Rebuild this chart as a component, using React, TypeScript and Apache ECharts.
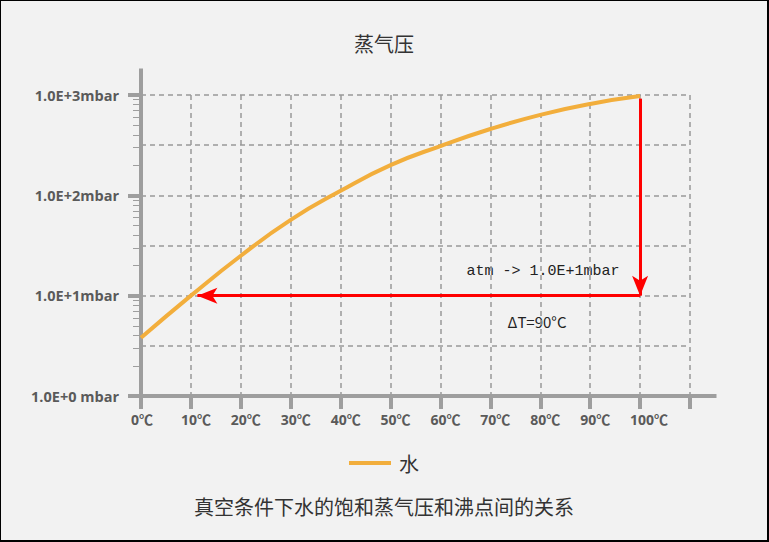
import React, { useEffect, useRef } from 'react';
import * as echarts from 'echarts';

// ---- data ----
const temperatures = [0, 10, 20, 30, 40, 50, 60, 70, 80, 90, 100];
const vaporPressure = [3.8, 10, 25, 57, 111, 200, 310, 458, 634, 815, 975];
const xTickValues = [0, 10, 20, 30, 40, 50, 60, 70, 80, 90, 100];
const yTickLabels: Record<number, string> = {
  0: '1.0E+0 mbar',
  1: '1.0E+1mbar',
  2: '1.0E+2mbar',
  3: '1.0E+3mbar',
};
const verticalArrow = [[100, 920], [100, 10]];
const horizontalArrow = [[100, 10], [11.3, 10]];
const titleText = '蒸气压';
const subtitleText = '真空条件下水的饱和蒸气压和沸点间的关系';
const seriesName = '水';
const annotationAtm = 'atm -> 1.0E+1mbar';
const annotationDeltaT = 'ΔT=90°C';

const AXIS_COLOR = '#9e9e9e';
const GRID_COLOR = '#999999';
const LABEL_COLOR = '#5a5a5a';
const LINE_COLOR = '#f2ae3c';

export default function App() {
  const ref = useRef<HTMLDivElement>(null);
  useEffect(() => {
    if (!ref.current) return;
    const chart = echarts.init(ref.current, null, { renderer: 'svg' });
    const splitLineStyle = { show: true, lineStyle: { color: GRID_COLOR, width: 1.5, type: [5, 4] } };
    chart.setOption({
      animation: false,
      backgroundColor: '#f2f2f2',
      textStyle: { fontFamily: '"Noto Sans CJK SC", "Noto Sans", sans-serif' },
      title: [
        {
          text: titleText,
          left: 'center',
          top: 27,
          textStyle: { fontSize: 20, fontWeight: 'normal', color: '#333333' },
        },
        {
          text: subtitleText,
          left: 'center',
          top: 490,
          textStyle: { fontSize: 20, fontWeight: 'normal', color: '#333333' },
        },
      ],
      legend: {
        data: [seriesName],
        left: 'center',
        top: 447,
        icon: 'rect',
        itemWidth: 42,
        itemHeight: 4,
        itemGap: 10,
        itemStyle: { color: LINE_COLOR },
        textStyle: { fontSize: 20, color: '#333333', padding: [0, 0, 0, 3] },
      },
      grid: { left: 140, right: 77, top: 94, bottom: 144, containLabel: false },
      xAxis: {
        type: 'value',
        min: 0,
        max: 110,
        interval: 10,
        axisLine: {
          show: true,
          lineStyle: { color: AXIS_COLOR, width: 4 },
          symbol: ['none', 'rect'],
          symbolSize: [4, 53],
        },
        axisTick: { show: true, length: 13, lineStyle: { color: AXIS_COLOR, width: 4 } },
        axisLabel: {
          margin: 16,
          align: 'left',
          padding: [0, 0, 0, -10],
          color: LABEL_COLOR,
          fontSize: 14,
          fontWeight: 'bold',
          fontFamily: '"Open Sans", "Noto Sans CJK SC", sans-serif',
          formatter: (v: number) => (xTickValues.indexOf(v) >= 0 ? v + '℃' : ''),
        },
        splitLine: splitLineStyle,
      },
      yAxis: [
        {
          type: 'log',
          logBase: 10,
          min: 1,
          max: 1000,
          axisLine: {
            show: true,
            lineStyle: { color: AXIS_COLOR, width: 4 },
            symbol: ['none', 'rect'],
            symbolSize: [4, 53],
          },
          axisTick: { show: true, length: 13, lineStyle: { color: AXIS_COLOR, width: 4 } },
          minorTick: { show: true, splitNumber: 9, length: 8, lineStyle: { color: AXIS_COLOR, width: 1 } },
          axisLabel: {
            margin: 22,
            color: LABEL_COLOR,
            fontSize: 14.5,
            fontWeight: 'bold',
            fontFamily: '"Open Sans", sans-serif',
            formatter: (v: number) => {
              const e = Math.round(Math.log10(v));
              return yTickLabels[e] ?? '';
            },
          },
          splitLine: { show: false },
        },
        {
          type: 'log',
          logBase: Math.sqrt(10),
          min: 1,
          max: 1000,
          interval: 1,
          position: 'left',
          axisLine: { show: false },
          axisTick: { show: false },
          axisLabel: { show: false },
          splitLine: splitLineStyle,
        },
      ],
      series: [
        {
          name: seriesName,
          type: 'line',
          yAxisIndex: 0,
          data: temperatures.map((t, i) => [t, vaporPressure[i]]),
          smooth: true,
          symbol: 'none',
          showSymbol: false,
          lineStyle: { color: LINE_COLOR, width: 4 },
          itemStyle: { color: LINE_COLOR },
          z: 3,
          markLine: {
            silent: true,
            symbol: ['none', 'arrow'],
            symbolSize: [12, 20],
            lineStyle: { color: '#ff0000', width: 3, type: 'solid' },
            itemStyle: { color: '#ff0000' },
            label: { show: false },
            emphasis: { disabled: true },
            data: [
              [{ coord: verticalArrow[0] }, { coord: verticalArrow[1] }],
              [{ coord: horizontalArrow[0] }, { coord: horizontalArrow[1] }],
            ],
          },
        },
      ],
      graphic: [
        {
          type: 'text',
          x: 542,
          y: 270,
          style: {
            text: annotationAtm,
            fontSize: 15,
            fontFamily: '"Liberation Mono", monospace',
            fill: '#222222',
            textAlign: 'center',
            textVerticalAlign: 'middle',
          },
        },
        {
          type: 'text',
          x: 536,
          y: 320,
          style: {
            text: annotationDeltaT,
            fontSize: 15,
            fontFamily: '"Noto Sans CJK SC", sans-serif',
            fill: '#222222',
            textAlign: 'center',
            textVerticalAlign: 'middle',
          },
        },
      ],
    });
    return () => chart.dispose();
  }, []);
  return (
    <div
      style={{
        position: 'fixed',
        left: 0,
        top: 0,
        width: 769,
        height: 542,
        boxSizing: 'border-box',
        borderTop: '1px solid #000',
        borderLeft: '1px solid #000',
        borderRight: '2px solid #000',
        borderBottom: '2px solid #000',
        background: '#f2f2f2',
      }}
    >
      <div ref={ref} style={{ width: 766, height: 539 }} />
    </div>
  );
}
